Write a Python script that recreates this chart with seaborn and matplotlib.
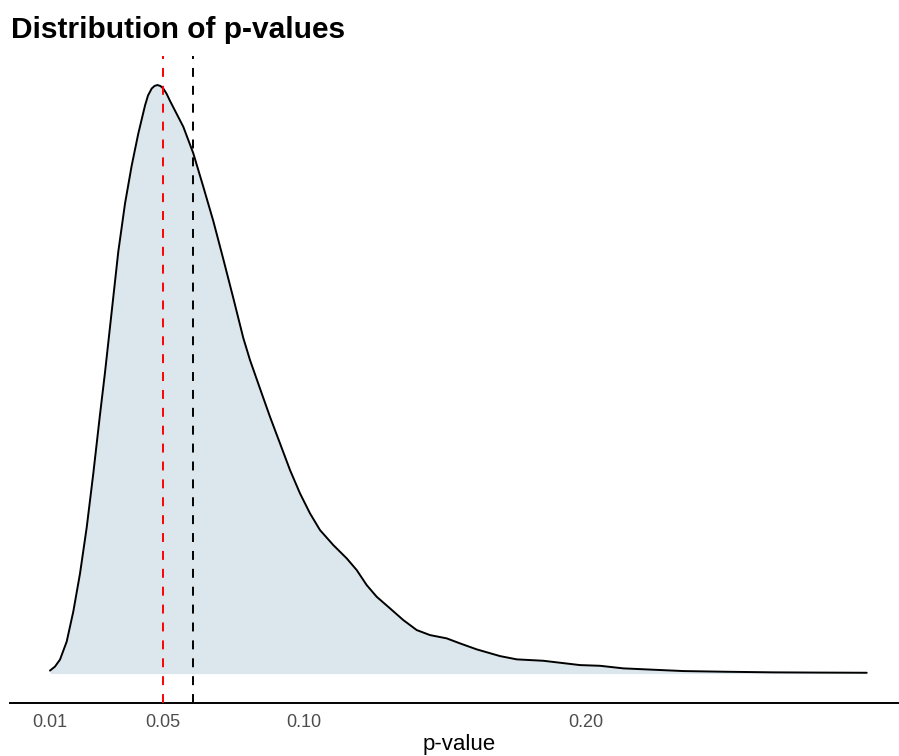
import matplotlib
matplotlib.use("Agg")
import matplotlib.pyplot as plt
import seaborn as sns
import pandas as pd

# ---- data ----
p_values = [0.01000, 0.01177, 0.01355, 0.01592, 0.01826, 0.02064, 0.02301, 0.02535,
            0.02773, 0.02950, 0.03188, 0.03422, 0.03660, 0.03897, 0.04131, 0.04369,
            0.04475, 0.04606, 0.04706, 0.04812, 0.04918, 0.05018, 0.05131, 0.05255,
            0.05727, 0.06082, 0.06436, 0.06791, 0.07145, 0.07500, 0.07855,
            0.08092, 0.08507, 0.08801, 0.09156, 0.09511, 0.09865, 0.10220, 0.10574,
            0.11046, 0.11521, 0.11876, 0.12230, 0.12585, 0.13057, 0.13528, 0.14004,
            0.14475, 0.15067, 0.15539, 0.16131, 0.16957, 0.17550, 0.18493, 0.19794,
            0.20504, 0.21330, 0.23457, 0.24996, 0.26649, 0.28188, 0.29961]
density = [0.081, 0.190, 0.379, 0.867, 1.680, 2.710, 3.957, 5.420,
           7.019, 8.157, 9.810, 11.436, 12.737, 13.767, 14.634, 15.393,
           15.664, 15.854, 15.924, 15.949, 15.921, 15.854, 15.718, 15.520,
           14.818, 14.098, 13.192, 12.263, 11.233, 10.176, 9.092,
           8.496, 7.593, 6.959, 6.238, 5.515, 4.883, 4.341, 3.889,
           3.482, 3.122, 2.805, 2.398, 2.081, 1.767, 1.450, 1.179,
           1.043, 0.954, 0.818, 0.656, 0.474, 0.385, 0.347, 0.230,
           0.211, 0.141, 0.068, 0.049, 0.033, 0.027, 0.022]
threshold = 0.05
median_p = 0.0608
tick_values = [0.01, 0.05, 0.10, 0.20]
tick_labels = ["0.01", "0.05", "0.10", "0.20"]
title = "Distribution of p-values"
xlabel = "p-value"

df = pd.DataFrame({"p": p_values, "density": density})

sns.set_style("white")
plt.rcParams["font.family"] = ["Liberation Sans", "DejaVu Sans"]

fig = plt.figure(figsize=(8.99, 7.56), dpi=100)
ax = fig.add_axes([10 / 899, (756 - 703) / 756, 889 / 899, (703 - 55.6) / 756])

ax.fill_between(df["p"], 0, df["density"], color="#dbe7ed", linewidth=0, zorder=1)
sns.lineplot(data=df, x="p", y="density", sort=False, estimator=None,
             color="black", linewidth=1.4, ax=ax, zorder=3,
             solid_joinstyle="round", solid_capstyle="round")

ax.axvline(threshold, color="#ff0000", linestyle=(0, (4.6, 4.6)), linewidth=1.4, zorder=4)
ax.axvline(median_p, color="black", linestyle=(0, (4.6, 4.6)), linewidth=1.4, zorder=4)

dmax = max(density)
ax.set_ylim(-0.05 * dmax, 1.05 * dmax)
ax.set_xlim(-0.004184, 0.31106)

ax.set_xticks(tick_values)
ax.set_xticklabels(tick_labels)
ax.set_yticks([])
ax.tick_params(axis="x", length=0, pad=8, labelsize=13, labelcolor="#4d4d4d")
ax.set_xlabel(xlabel, fontsize=16, color="black")
ax.set_ylabel("")
ax.xaxis.set_label_coords((459 - 10) / 889, -(734 - 703) / (703 - 55.6))
ax.xaxis.label.set_va("top")

for s in ["top", "right", "left"]:
    ax.spines[s].set_visible(False)
ax.spines["bottom"].set_color("black")
ax.spines["bottom"].set_linewidth(1.4)

fig.text(11 / 899, 1 - 38 / 756, title, fontsize=21.5, fontweight="bold",
         ha="left", va="baseline", color="black")

fig.savefig("out.png", dpi=100)
